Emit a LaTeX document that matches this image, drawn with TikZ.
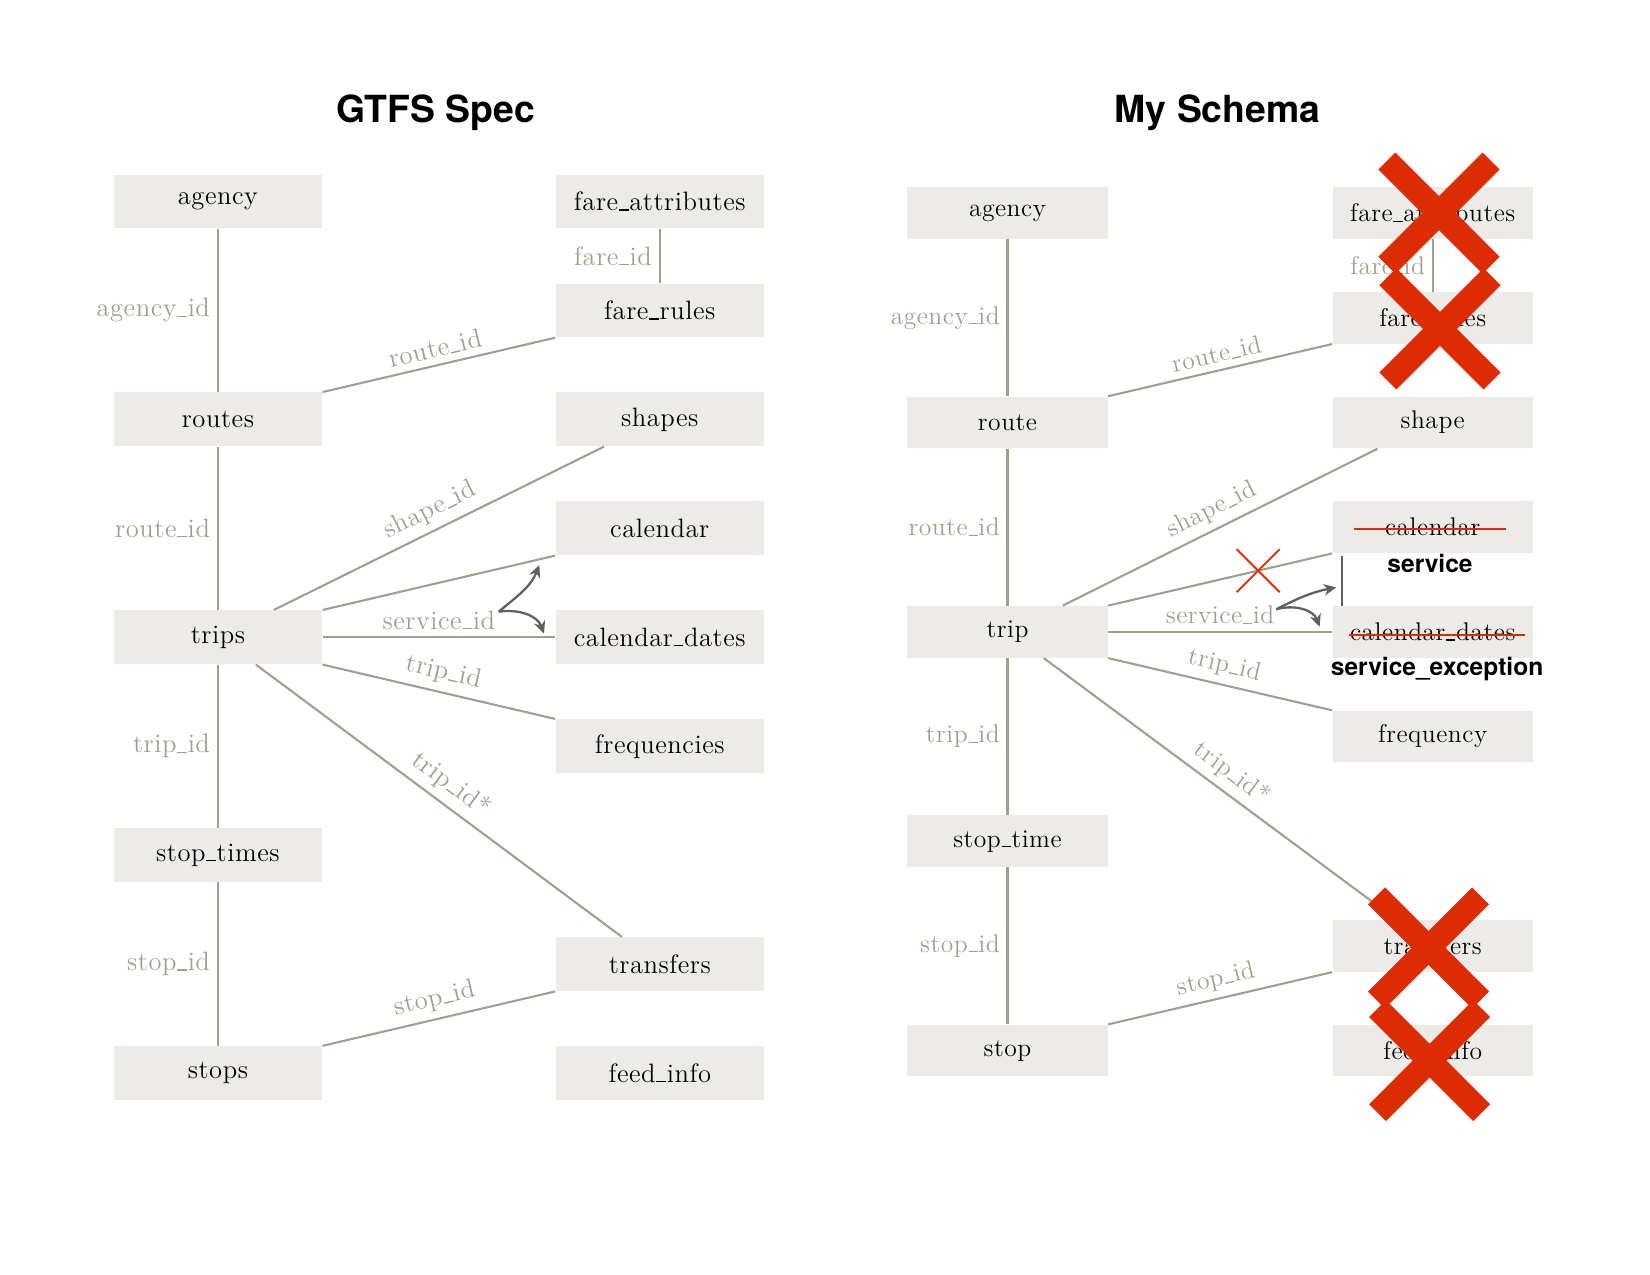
\documentclass[tikz,border=0pt]{standalone}
\usepackage{fontspec}
\setmainfont{Latin Modern Roman}[LetterSpace=2]
\newfontfamily\headfont{TeX Gyre Heros}
\usetikzlibrary{positioning}
\usetikzlibrary{arrows.meta}
\usetikzlibrary{shapes.misc}

\definecolor{boxgray}{RGB}{236,235,231}
\definecolor{keygray}{RGB}{162,158,141}
\definecolor{flowgray}{RGB}{95,96,98}
\definecolor{xred}{RGB}{220,44,4}

\newcommand{\tblfont}{\fontsize{12.8}{15}\selectfont}
\newcommand{\keyfont}{\fontsize{12.8}{15}\selectfont}
\newcommand{\us}{\kern0.03em\rule{0.36em}{0.05em}\kern0.03em}

\begin{document}
\begin{tikzpicture}[on grid,node distance=104.6bp and 212.1bp,%
  tbl/.style={fill=boxgray,minimum width=100bp,minimum height=25.8bp,%
  inner sep=0pt,font=\tblfont},%
  key/.style={font=\keyfont,text=keygray},%
  link/.style={draw=keygray,line width=1bp},%
  flow/.style={draw=flowgray,line width=1.1bp,-{Stealth[length=6bp,width=5.5bp]}},%
  title/.style={font=\headfont\bfseries\fontsize{18}{22}\selectfont,anchor=base},%
  newname/.style={font=\headfont\bfseries\fontsize{12.3}{14}\selectfont,inner sep=0pt},%
  strike/.style={draw=xred,line width=1bp},%
  smallx/.style={cross out,draw=xred,line width=0.9bp,minimum size=20.5bp,inner sep=0pt},%
  bigx/.style={draw=xred,line width=11.5bp}]
  \useasboundingbox (0,0) rectangle (792bp,612bp);

  % GTFS spec
  \node[title] (spec) at (209.1bp,553.4bp) {GTFS Spec};
  \node[tbl] (agency)     at (104.6bp,515.3bp)          {agency};
  \node[tbl] (routes)     [below=of agency]              {routes};
  \node[tbl] (trips)      [below=of routes]              {trips};
  \node[tbl] (stoptimes)  [below=of trips]               {stop\us times};
  \node[tbl] (stops)      [below=of stoptimes]           {stops};
  \node[tbl] (fareattr)   [right=of agency]              {fare\us attributes};
  \node[tbl] (farerules)  [below=52.3bp of fareattr]     {fare\us rules};
  \node[tbl] (shapes)     [right=of routes]              {shapes};
  \node[tbl] (calendar)   [below=52.3bp of shapes]       {calendar};
  \node[tbl] (caldates)   [right=of trips]               {calendar\us dates};
  \node[tbl] (freq)       [below=52.3bp of caldates]     {frequencies};
  \node[tbl] (feedinfo)   [right=of stops]               {feed\us info};
  \node[tbl] (transfers)  [above=52.3bp of feedinfo]     {transfers};

  \path[link] (agency) edge node[key,left] {agency\us id} (routes)
              (fareattr) edge node[key,left] {fare\us id} (farerules)
              (routes.north east) edge node[key,sloped,above] {route\us id} (farerules.south west)
              (routes) edge node[key,left] {route\us id} (trips)
              ([xshift=26.8bp]trips.north) edge node[key,sloped,above] {shape\us id}
                ([xshift=-26.8bp]shapes.south)
              (trips.north east) edge (calendar.south west)
              (trips) edge node[key,above] (svc) {service\us id} (caldates)
              (trips.south east) edge node[key,sloped,above] {trip\us id} (freq.north west)
              ([xshift=18.2bp]trips.south) edge node[key,sloped,above] {trip\us id*}
                ([xshift=-18.2bp]transfers.north)
              (trips) edge node[key,left] {trip\us id} (stoptimes)
              (stoptimes) edge node[key,left] {stop\us id} (stops)
              (stops.north east) edge node[key,sloped,above] {stop\us id} (transfers.south west);

  \coordinate (split)   at ([shift={(-27.1bp,-26.9bp)}]calendar.south west);
  \coordinate (upend)   at ([shift={(-7.6bp,-4.5bp)}]calendar.south west);
  \coordinate (downend) at ([shift={(-5.4bp,1.8bp)}]caldates.west);
  \draw[flow] (split) to[out=40,in=-112] (upend);
  \draw[flow] (split) to[out=8,in=110] (downend);

  % my schema
  \node[title] (mine) at (584.4bp,553.4bp) {My Schema};
  \begin{scope}[node distance=100.5bp and 204.1bp,every node/.append style={scale=0.962}]
  \node[tbl] (ragency)    at (483.6bp,509.7bp)          {agency};
  \node[tbl] (rroute)     [below=of ragency]             {route};
  \node[tbl] (rtrip)      [below=of rroute]              {trip};
  \node[tbl] (rstoptime)  [below=of rtrip]               {stop\us time};
  \node[tbl] (rstop)      [below=of rstoptime]           {stop};
  \node[tbl] (rfareattr)  [right=of ragency]             {fare\us attributes};
  \node[tbl] (rfarerules) [below=50.26bp of rfareattr]   {fare\us rules};
  \node[tbl] (rshape)     [right=of rroute]              {shape};
  \node[tbl] (rcal)       [below=50.26bp of rshape]      {calendar};
  \node[tbl] (rcaldates)  [right=of rtrip]               {calendar\us dates};
  \node[tbl] (rfreq)      [below=50.26bp of rcaldates]   {frequency};
  \node[tbl] (rfeed)      [right=of rstop]               {feed\us info};
  \node[tbl] (rtransfers) [above=50.26bp of rfeed]       {transfers};

  \path[link] (ragency) edge node[key,left] {agency\us id} (rroute)
              (rfareattr) edge node[key,left] {fare\us id} (rfarerules)
              (rroute.north east) edge node[key,sloped,above] {route\us id} (rfarerules.south west)
              (rroute) edge node[key,left] {route\us id} (rtrip)
              ([xshift=26.5bp]rtrip.north) edge node[key,sloped,above] {shape\us id}
                ([xshift=-26.5bp]rshape.south)
              (rtrip.north east) edge node[smallx,pos=0.67] (cutmark) {} (rcal.south west)
              (rtrip) edge node[key,above] (rsvc) {service\us id} (rcaldates)
              (rtrip.south east) edge node[key,sloped,above] {trip\us id} (rfreq.north west)
              ([xshift=17.4bp]rtrip.south) edge node[key,sloped,above] {trip\us id*}
                ([xshift=-17.4bp]rtransfers.north)
              (rtrip) edge node[key,left] {trip\us id} (rstoptime)
              (rstoptime) edge node[key,left] {stop\us id} (rstop)
              (rstop.north east) edge node[key,sloped,above] {stop\us id} (rtransfers.south west);

  % renamed tables
  \draw[strike] ([shift={(-38bp,-1bp)}]rcal.center) -- ([shift={(35bp,-1bp)}]rcal.center);
  \draw[strike] ([shift={(-40bp,-1.6bp)}]rcaldates.center) -- ([shift={(44.3bp,-1.6bp)}]rcaldates.center);
  \node[newname] (service) at ([shift={(-1.3bp,-4.7bp)}]rcal.south) {service};
  \node[newname] (servexc) at ([shift={(2.1bp,-5.4bp)}]rcaldates.south) {service\_exception};
  \draw[flowgray,line width=1.2bp] ([shift={(4.7bp,-1.3bp)}]rcal.south west)
    -- ([xshift=4.7bp]rcaldates.north west);

  \coordinate (rsplit)   at ([shift={(-26.8bp,-26.8bp)}]rcal.south west);
  \coordinate (rupend)   at ([shift={(2bp,-16.3bp)}]rcal.south west);
  \coordinate (rdownend) at ([shift={(-6bp,2.5bp)}]rcaldates.west);
  \draw[flow] (rsplit) to[out=27,in=-169] (rupend);
  \draw[flow] (rsplit) to[out=16,in=110] (rdownend);
  \end{scope}

  % dropped tables
  \foreach \nd/\dx/\dy in {rfareattr/3bp/0bp,rfarerules/3.5bp/-5.3bp,%
                           rtransfers/-2bp/-1bp,rfeed/-1.5bp/-4.8bp}
    \draw[bigx] ([shift={(\dx,\dy)}]\nd.center) +(-25bp,25bp) -- +(25bp,-25bp)
                                               +(-25bp,-25bp) -- +(25bp,25bp);
\end{tikzpicture}
\end{document}
